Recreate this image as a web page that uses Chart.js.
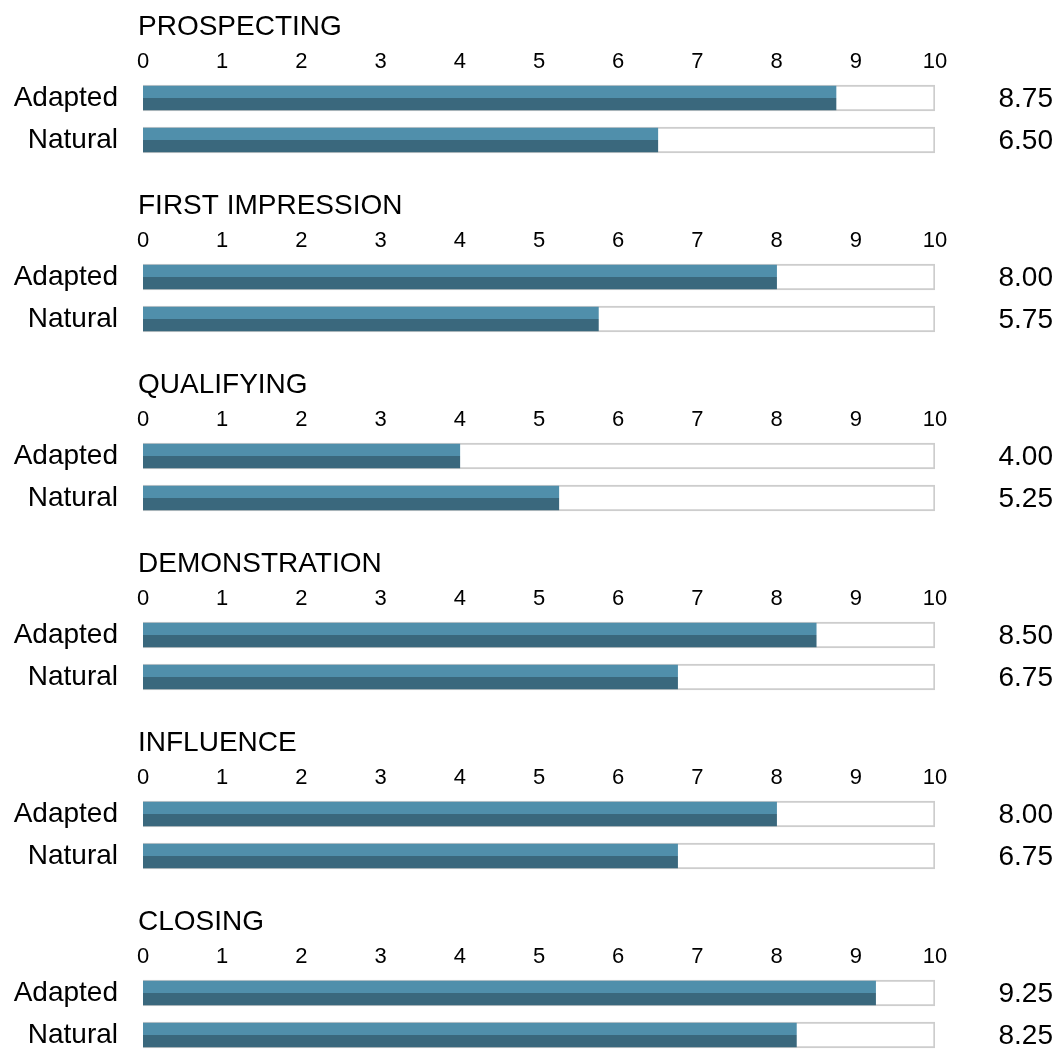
<!DOCTYPE html>
<html>
<head>
<meta charset="utf-8">
<script src="https://cdn.jsdelivr.net/npm/chart.js@4.4.0/dist/chart.umd.min.js"></script>
<style>
  html, body { margin: 0; padding: 0; background: #fff; overflow: hidden; }
  .sec { position: absolute; left: 0; width: 1055px; height: 179px; }
</style>
</head>
<body>
<div id="wrap"></div>
<script>
const sections = ['PROSPECTING', 'FIRST IMPRESSION', 'QUALIFYING', 'DEMONSTRATION', 'INFLUENCE', 'CLOSING'];
const rowLabels = ['Adapted', 'Natural'];
const adapted = [8.75, 8.00, 4.00, 8.50, 8.00, 9.25];
const natural = [6.50, 5.75, 5.25, 6.75, 6.75, 8.25];
const scaleMax = 10;

const light = '#508fab';
const dark = '#3a687d';
const font = '"Liberation Sans", Arial, sans-serif';

// section title above the axis
const titlePlugin = {
  id: 'secTitle',
  afterDraw(chart) {
    const ctx = chart.ctx;
    ctx.save();
    ctx.font = '28px ' + font;
    ctx.fillStyle = '#000';
    ctx.textAlign = 'left';
    ctx.textBaseline = 'middle';
    ctx.fillText(chart.options.plugins.secTitle.text, chart.chartArea.left - 5, 27);
    ctx.restore();
  }
};

// numbers on the right side
const valuePlugin = {
  id: 'values',
  afterDatasetsDraw(chart) {
    const ctx = chart.ctx;
    const meta = chart.getDatasetMeta(0);
    ctx.save();
    ctx.font = '28px ' + font;
    ctx.fillStyle = '#000';
    ctx.textAlign = 'right';
    ctx.textBaseline = 'middle';
    meta.data.forEach((bar, i) => {
      ctx.fillText(chart.data.datasets[0].data[i].toFixed(2), chart.width - 2, bar.y + 1);
    });
    ctx.restore();
  }
};

function twoTone(c) {
  const chart = c.chart;
  if (!chart.chartArea) return light;
  const y = chart.scales.y.getPixelForValue(c.dataIndex);
  const g = chart.ctx.createLinearGradient(0, y - 12, 0, y + 12);
  g.addColorStop(0, light);
  g.addColorStop(0.5, light);
  g.addColorStop(0.5, dark);
  g.addColorStop(1, dark);
  return g;
}

sections.forEach((name, s) => {
  const div = document.createElement('div');
  div.className = 'sec';
  div.style.top = (s * 179) + 'px';
  const canvas = document.createElement('canvas');
  div.appendChild(canvas);
  document.getElementById('wrap').appendChild(div);

  new Chart(canvas, {
    type: 'bar',
    data: {
      labels: rowLabels,
      datasets: [{
        label: 'score',
        data: [adapted[s], natural[s]],
        backgroundColor: twoTone,
        borderWidth: 0,
        barThickness: 24,
        grouped: false,
        order: 0
      }, {
        label: 'track',
        data: rowLabels.map(() => scaleMax),
        backgroundColor: '#ffffff',
        borderColor: '#cdcdcd',
        borderWidth: 2,
        borderSkipped: false,
        barThickness: 26,
        grouped: false,
        order: 1
      }]
    },
    options: {
      indexAxis: 'y',
      responsive: true,
      maintainAspectRatio: false,
      animation: false,
      layout: { padding: { left: 0, right: 120, top: 0, bottom: 18 } },
      plugins: {
        legend: { display: false },
        tooltip: { enabled: false },
        secTitle: { text: name }
      },
      scales: {
        x: {
          position: 'top',
          min: 0,
          max: scaleMax,
          grid: { display: false, drawTicks: false },
          border: { display: false },
          ticks: { stepSize: 1, padding: 2, color: '#000', font: { size: 22, family: font } },
          afterFit(scale) { scale.height = 77; scale.paddingLeft = 0; scale.paddingRight = 0; }
        },
        y: {
          grid: { display: false, drawTicks: false },
          border: { display: false },
          ticks: { padding: 25, autoSkip: false, color: '#000', font: { size: 28, family: font } },
          afterFit(scale) { scale.width = 143; scale.paddingTop = 0; scale.paddingBottom = 0; }
        }
      }
    },
    plugins: [titlePlugin, valuePlugin]
  });
});
</script>
</body>
</html>
